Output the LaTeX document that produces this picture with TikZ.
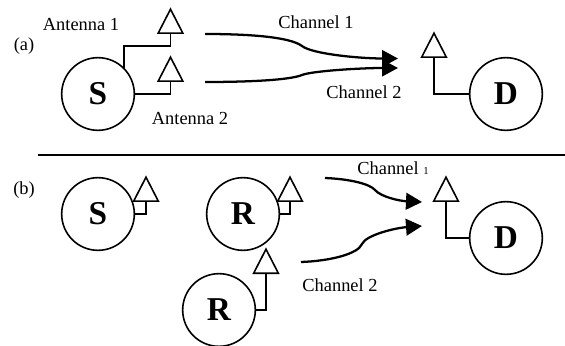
\documentclass[tikz,border=0pt]{standalone}
\usepackage{fontspec}
\setmainfont{Liberation Serif}
\usetikzlibrary{arrows.meta,shapes.geometric}
\begin{document}
\begin{tikzpicture}
      [x=0.75pt,y=-0.75pt,line width=1.2pt,
      main node/.style={circle,draw,inner sep=0pt,minimum size=54.5pt,font=\fontsize{25}{28}\selectfont\bfseries},
      antenna node/.style={draw,isosceles triangle,isosceles triangle stretches,shape border rotate=90,inner sep=0pt,minimum height=18pt,minimum width=18.5pt},
      label node/.style={inner sep=0pt,font=\fontsize{13.8}{16}\selectfont},
      channel/.style={line width=1.7pt,-{Triangle[length=12pt,width=12.5pt]}}]
      \useasboundingbox (0,0) rectangle (565,346);
      % part (a)
      \node[label node] (la) at (24,46) {(a)};
      \node[main node] (s1) at (98,94) {S};
      \node[main node] (d1) at (506,94) {D};
      \node[antenna node,anchor=lower side] (a1) at (170.5,34) {};
      \node[antenna node,anchor=lower side] (a2) at (170.5,82) {};
      \node[antenna node,anchor=lower side] (a3) at (434,58) {};
      \coordinate (k1) at (170.5,46);
      \draw (s1.45) |- (k1) -- (a1.lower side);
      \draw (s1.east) -| (a2.lower side);
      \draw (d1.west) -| (a3.lower side);
      \node[label node] (t1) at (81,25) {Antenna 1};
      \node[label node] (t2) at (190,118) {Antenna 2};
      \node[label node] (c1) at (316,22) {Channel 1};
      \node[label node] (c2) at (364,92) {Channel 2};
      \coordinate (p1) at (205,34);
      \coordinate (q1) at (398,58.5);
      \coordinate (p2) at (205,82);
      \coordinate (q2) at (398,68);
      \draw[channel] (p1) .. controls (250,34) and (290,37) .. (302,46) .. controls (312,54) and (360,58.5) .. (q1);
      \draw[channel] (p2) .. controls (250,82) and (290,80) .. (302,75) .. controls (312,71) and (360,68) .. (q2);
      % divider
      \coordinate (m1) at (38,155);
      \coordinate (m2) at (565,155);
      \draw (m1) -- (m2);
      % part (b)
      \node[label node] (lb) at (24,190) {(b)};
      \node[main node] (s2) at (98,214) {S};
      \node[main node] (r1) at (243,214) {R};
      \node[main node] (r2) at (219,310) {R};
      \node[main node] (d2) at (506,238) {D};
      \node[antenna node,anchor=lower side] (a4) at (146,202) {};
      \node[antenna node,anchor=lower side] (a5) at (290,202) {};
      \node[antenna node,anchor=lower side] (a6) at (266,274) {};
      \node[antenna node,anchor=lower side] (a7) at (446,202) {};
      \draw (s2.east) -| (a4.lower side);
      \draw (r1.east) -| (a5.lower side);
      \draw (r2.east) -| (a6.lower side);
      \draw (d2.west) -| (a7.lower side);
      \node[label node] (c3) at (393,168) {Channel {\fontsize{8}{10}\selectfont 1}};
      \node[label node] (c4) at (340,285) {Channel 2};
      \coordinate (p3) at (325,178);
      \coordinate (q3) at (422,202);
      \coordinate (p4) at (301,262);
      \coordinate (q4) at (422,226);
      \draw[channel] (p3) .. controls (350,179) and (370,184) .. (375,190) .. controls (381,197) and (400,201) .. (q3);
      \draw[channel] (p4) .. controls (330,261) and (358,254) .. (362,244) .. controls (366,235) and (395,228) .. (q4);
\end{tikzpicture}
\end{document}
